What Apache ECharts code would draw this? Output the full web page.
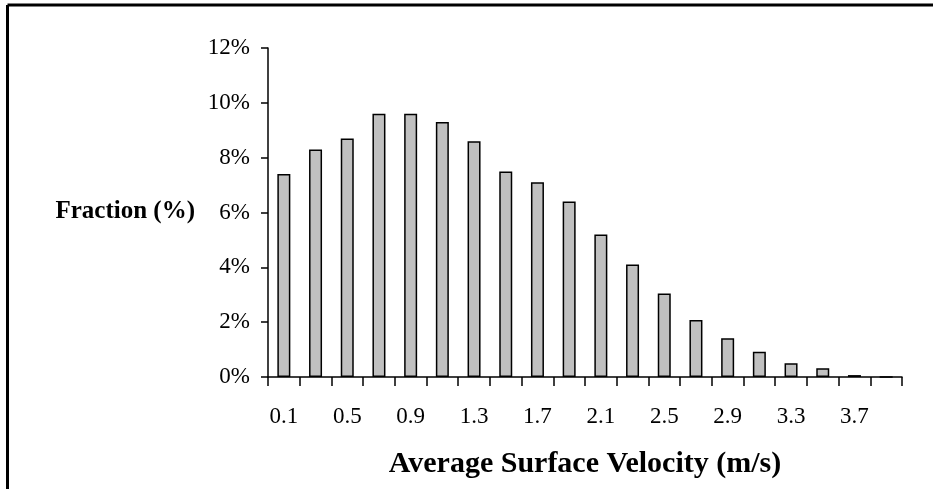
<!DOCTYPE html>
<html>
<head>
<meta charset="utf-8">
<script src="https://cdn.jsdelivr.net/npm/echarts@6/dist/echarts.min.js"></script>
<style>
html,body{margin:0;padding:0;background:#fff;}
#chart{width:933px;height:489px;}
</style>
</head>
<body>
<div id="chart"></div>
<script>
var categories = ['0.1','0.3','0.5','0.7','0.9','1.1','1.3','1.5','1.7','1.9','2.1','2.3','2.5','2.7','2.9','3.1','3.3','3.5','3.7','3.9'];
var fractions = [7.4, 8.3, 8.7, 9.6, 9.6, 9.3, 8.6, 7.5, 7.1, 6.4, 5.2, 4.1, 3.05, 2.08, 1.41, 0.92, 0.5, 0.32, 0.07, 0];
var yTicks = [0, 2, 4, 6, 8, 10, 12];

var serif = '"Liberation Serif", "Times New Roman", serif';
var chart = echarts.init(document.getElementById('chart'));
chart.setOption({
  backgroundColor: '#fff',
  animation: false,
  grid: {left: 268, right: 31, top: 48, bottom: 112},
  graphic: [
    {type: 'line', shape: {x1: 7.5, y1: 5, x2: 933, y2: 5}, style: {stroke: '#000', lineWidth: 3}},
    {type: 'line', shape: {x1: 7.5, y1: 5, x2: 7.5, y2: 489}, style: {stroke: '#000', lineWidth: 3}},
    {type: 'text', right: 933 - 195, top: 199, style: {text: 'Fraction (%)', font: 'bold 25px ' + serif, fill: '#000', textAlign: 'right'}}
  ],
  xAxis: {
    type: 'category',
    data: categories,
    boundaryGap: true,
    name: 'Average Surface Velocity (m/s)',
    nameLocation: 'middle',
    nameGap: 72,
    nameTextStyle: {fontFamily: serif, fontSize: 30, fontWeight: 'bold', color: '#000'},
    axisLine: {lineStyle: {color: '#000', width: 1.5}},
    axisTick: {show: true, length: 9, interval: 0, lineStyle: {color: '#000', width: 1.5}},
    axisLabel: {interval: 1, margin: 28, fontFamily: serif, fontSize: 23, color: '#000'},
    splitLine: {show: false}
  },
  yAxis: {
    type: 'value',
    min: yTicks[0],
    max: yTicks[yTicks.length - 1],
    interval: 2,
    axisLine: {show: true, lineStyle: {color: '#000', width: 1.5}},
    axisTick: {show: true, length: 7, lineStyle: {color: '#000', width: 1.5}},
    axisLabel: {margin: 18, fontFamily: serif, fontSize: 23, color: '#000', formatter: '{value}%'},
    splitLine: {show: false}
  },
  series: [{
    type: 'bar',
    data: fractions,
    barWidth: 13,
    itemStyle: {color: '#c0c0c0', borderColor: '#000', borderWidth: 1.5}
  }]
});
</script>
</body>
</html>
